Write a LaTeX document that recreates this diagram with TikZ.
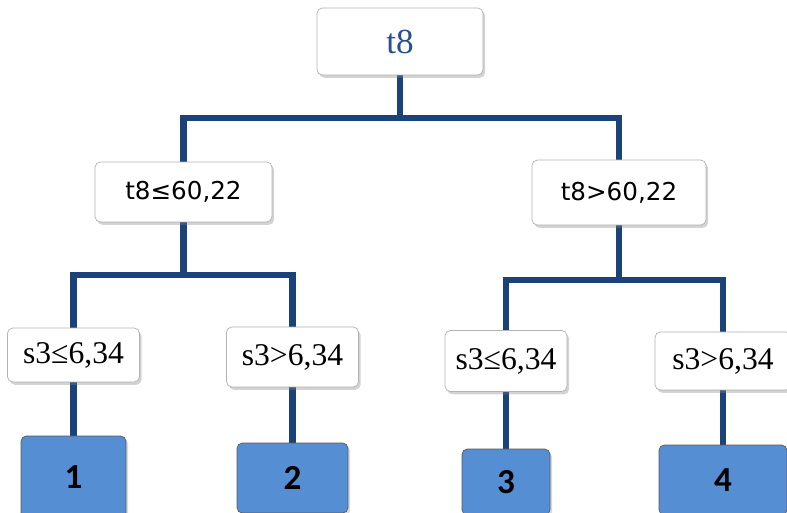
\documentclass[tikz,border=0pt]{standalone}
\usepackage{fontspec}
\setmainfont{Liberation Serif}
\newfontfamily\condfont{DejaVu Sans}
\newfontfamily\leaffont{Carlito}
\usetikzlibrary{shadows,backgrounds}
\definecolor{branchblue}{RGB}{28,66,122}
\definecolor{leafblue}{RGB}{86,142,212}
\definecolor{rootblue}{RGB}{40,80,145}
\tikzset{
	box/.style={draw=gray!60, fill=white, rounded corners=3pt, inner sep=0pt,
		drop shadow={opacity=0.35, shadow xshift=1.2pt, shadow yshift=-1.6pt}},
	cond/.style={box, font=\condfont\fontsize{14}{16}\selectfont},
	split/.style={box, font=\fontsize{18}{20}\selectfont},
	leaf/.style={draw=gray!70!black, fill=leafblue, rounded corners=3pt, inner sep=0pt,
		font=\leaffont\bfseries\fontsize{20}{22}\selectfont,
		drop shadow={opacity=0.3, shadow xshift=1.2pt, shadow yshift=-1.6pt}},
	branch/.style={draw=branchblue, line width=3.6pt}
}
\begin{document}
\begin{tikzpicture}[x=0.02cm, y=-0.02cm]
	\useasboundingbox (0,0) rectangle (787,513);
	\clip (0,0) rectangle (787,513);
	% root
	\node[box, minimum width=3.32cm, minimum height=1.34cm, text=rootblue,
		font=\fontsize{20}{22}\selectfont] (root) at (400,41.5) {t8};
	% first split
	\node[cond, minimum width=3.54cm, minimum height=1.2cm] (tl) at (183.5,192) {t8≤60,22};
	\node[cond, minimum width=3.48cm, minimum height=1.3cm] (tr) at (619,192.5) {t8>60,22};
	% second split
	\node[split, minimum width=2.64cm, minimum height=1.08cm] (ll) at (73.5,355) {s3≤6,34};
	\node[split, minimum width=2.64cm, minimum height=1.2cm] (lr) at (292.5,357) {s3>6,34};
	\node[split, minimum width=2.44cm, minimum height=1.22cm] (rl) at (506,361) {s3≤6,34};
	\node[split, minimum width=2.72cm, minimum height=1.16cm] (rr) at (723,361) {s3>6,34};
	% leaves
	\node[leaf, minimum width=2.1cm, minimum height=1.64cm] (c1) at (73.5,477) {1};
	\node[leaf, minimum width=2.22cm, minimum height=1.4cm] (c2) at (292.5,478) {2};
	\node[leaf, minimum width=1.76cm, minimum height=1.32cm] (c3) at (506,482) {3};
	\node[leaf, minimum width=2.56cm, minimum height=1.4cm] (c4) at (723,480) {4};
	% junctions of the tree
	\coordinate (j0) at (401,118);
	\coordinate (j1) at (183.5,275);
	\coordinate (j2) at (619,280);
	% lines behind the boxes
	\begin{scope}[on background layer]
		\draw[branch] (root.center) |- (j0);
		\draw[branch] (tl.center) |- (j0) -| (tr.center);
		\draw[branch] (tl.center) -- (j1);
		\draw[branch] (ll.center) |- (j1) -| (lr.center);
		\draw[branch] (tr.center) -- (j2);
		\draw[branch] (rl.center) |- (j2) -| (rr.center);
		\draw[branch] (ll.center) -- (c1.center);
		\draw[branch] (lr.center) -- (c2.center);
		\draw[branch] (rl.center) -- (c3.center);
		\draw[branch] (rr.center) -- (c4.center);
	\end{scope}
\end{tikzpicture}
\end{document}
